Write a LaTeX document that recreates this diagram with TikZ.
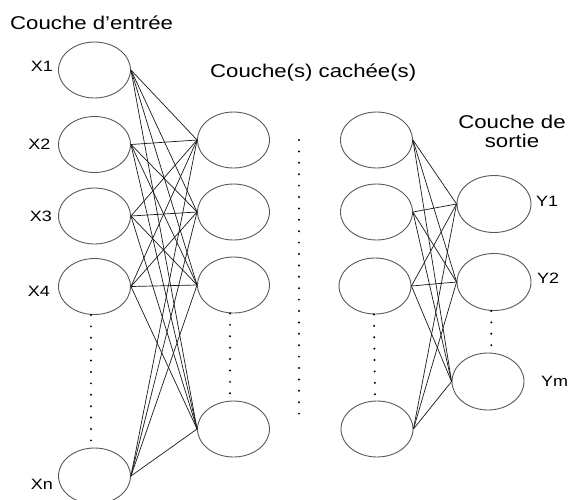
\documentclass[tikz,border=0pt]{standalone}
\usepackage{fontspec}
\setmainfont{Liberation Sans}[FakeStretch=1.2]
\usetikzlibrary{shapes.geometric, positioning}

\begin{document}
\begin{tikzpicture}[
    x=1pt, y=-1pt,
    neuron/.style={
        ellipse,
        draw=black!65,
        line width=0.9pt,
        minimum width=72pt,
        minimum height=56pt,
        inner sep=0pt,
    },
    link/.style={
        draw=black!90,
        line width=0.7pt,
    },
    dotcol/.style={
        line width=2.2pt,
        line cap=round,
        dash pattern=on 0pt off 11.4pt,
    },
    layer/.style={
        font=\fontsize{18.5}{19}\selectfont,
        inner sep=0pt,
    },
    tag/.style={
        font=\fontsize{15}{16}\selectfont,
        inner sep=0pt,
    }
]
    \useasboundingbox (0,0) rectangle (568,499);

    % Layer titles
    \node[layer, anchor=base west] (tin) at (10,29) {Couche d’entrée};
    \node[layer, anchor=base west] (thid) at (210,77) {Couche(s) cachée(s)};
    \node[layer, anchor=north, align=center] (tout) at (512,114.5) {Couche de\\sortie};

    % Input layer
    \node[neuron] (x1) at (94.5,70) {};
    \node[neuron] (x2) at (94.5,144.5) {};
    \node[neuron] (x3) at (94.5,216) {};
    \node[neuron] (x4) at (94.5,286.5) {};
    \node[neuron] (xn) at (94.5,476) {};

    % First hidden layer
    \node[neuron] (a1) at (233.5,140) {};
    \node[neuron] (a2) at (233.5,212) {};
    \node[neuron] (a3) at (233.5,285) {};
    \node[neuron] (a4) at (233.5,429) {};

    % Last hidden layer
    \node[neuron] (b1) at (376.5,140) {};
    \node[neuron] (b2) at (376.5,212) {};
    \node[neuron] (b3) at (375,286) {};
    \node[neuron] (b4) at (377,429) {};

    % Output layer
    \node[neuron, minimum width=74pt, minimum height=57pt] (y1) at (494,204) {};
    \node[neuron, minimum width=74pt, minimum height=57pt] (y2) at (494,282) {};
    \node[neuron, minimum width=72pt, minimum height=57pt] (ym) at (488,381.5) {};

    % Neuron labels
    \node[tag, left=5pt of x1, yshift=4pt] (lx1) {X1};
    \node[tag, left=7.5pt of x2] (lx2) {X2};
    \node[tag, left=6pt of x3] (lx3) {X3};
    \node[tag, left=8pt of x4, yshift=-4.5pt] (lx4) {X4};
    \node[tag, left=5pt of xn, yshift=-8pt] (lxn) {Xn};
    \node[tag, right=4.5pt of y1, yshift=3pt] (ly1) {Y1};
    \node[tag, right=5.5pt of y2, yshift=4pt] (ly2) {Y2};
    \node[tag, right=16.5pt of ym] (lym) {Ym};

    % Connections
    \foreach \i in {x1,x2,x3,x4,xn}
        \foreach \j in {a1,a2,a3,a4}
            \draw[link] (\i.east) -- (\j.west);
    \foreach \i in {b1,b2,b3,b4}
        \foreach \j in {y1,y2,ym}
            \draw[link] (\i.east) -- (\j.west);

    % Dots
    \draw[dotcol] ([xshift=-3.5pt]x4.south) -- ([xshift=-3.5pt]xn.north);
    \draw[dotcol] ([xshift=-3.5pt]a3.south) -- ([xshift=-3.5pt]a4.north);
    \draw[dotcol] ([xshift=-1pt]b3.south) -- ([xshift=-2pt]b4.north);
    \draw[dotcol] ([xshift=-2.7pt]y2.south) -- ([xshift=3.3pt]ym.north);
    \draw[dotcol] (299,140) -- (299,414);
\end{tikzpicture}
\end{document}
